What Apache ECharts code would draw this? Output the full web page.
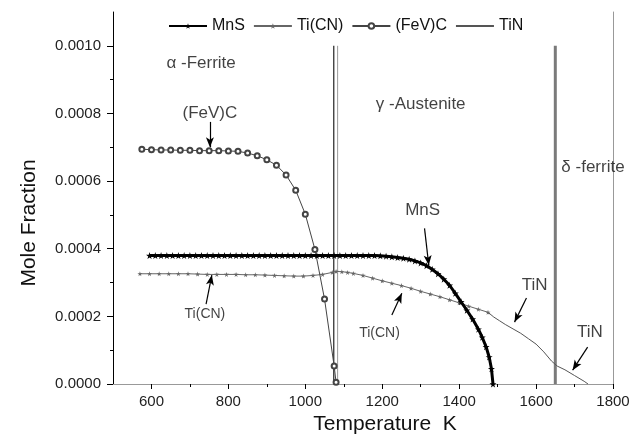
<!DOCTYPE html>
<html><head><meta charset="utf-8">
<script src="https://cdn.jsdelivr.net/npm/echarts@6/dist/echarts.min.js"></script>
<style>html,body{margin:0;padding:0;background:#fff}#c{width:634px;height:444px}</style>
</head><body><div id="c"></div>
<script>
// ---- data ----
const xTickLabels = [600, 800, 1000, 1200, 1400, 1600, 1800];
const xMinorTicks = [700, 900, 1100, 1300, 1500, 1700];
const yTickLabels = [0, 0.0002, 0.0004, 0.0006, 0.0008, 0.0010];
const yMinorTicks = [0.0001, 0.0003, 0.0005, 0.0007, 0.0009];

const mnsT = [595,610,625,640,655,670,685,700,715,730,745,760,775,790,805,820,835,850,865,880,
  895,910,925,940,955,970,985,1000,1015,1030,1045,1060,1075,1090,1105,1120,1135,1150,1165,1180,
  1195,1210,1225,1240,1255,1270,1285,1300,1315,1330,1345,1360,1375,1390,1405,1420,1435,1450,1460,1470,1478,1484,1488];
const mnsV = [0.00038,0.00038,0.00038,0.00038,0.00038,0.00038,0.00038,0.00038,0.00038,0.00038,
  0.00038,0.00038,0.00038,0.00038,0.00038,0.00038,0.00038,0.00038,0.00038,0.00038,
  0.00038,0.00038,0.00038,0.00038,0.00038,0.00038,0.00038,0.00038,0.00038,0.00038,
  0.00038,0.00038,0.00038,0.00038,0.00038,0.00038,0.00038,0.00038,0.00038,0.00038,
  0.000379,0.000378,0.000376,0.000374,0.000372,0.000369,0.000364,0.000358,0.00035,0.000339,
  0.000326,0.00031,0.000292,0.000268,0.000243,0.000218,0.000192,0.000162,0.000138,0.00011,0.00008,0.000045,0];

const ticnT = [570,595,620,645,670,695,720,745,770,795,820,845,870,895,920,945,970,995,1020,1045,1070,1080,
  1095,1110,1125,1150,1175,1200,1225,1250,1275,1300,1325,1350,1375,1400,1425,1450,1475];
const ticnV = [0.000326,0.000326,0.000326,0.000326,0.000326,0.000326,0.000325,0.000324,0.000324,0.000324,
  0.000324,0.000323,0.000323,0.000322,0.000321,0.00032,0.000319,0.000319,0.000321,0.000324,0.00033,0.000333,
  0.000332,0.00033,0.000327,0.000321,0.000313,0.000305,0.000298,0.000291,0.000283,0.000274,0.000266,0.000258,
  0.000249,0.00024,0.00023,0.000221,0.000212];

const fevcT = [575,600,625,650,675,700,725,750,775,800,825,850,875,900,925,950,975,1000,1025,1050,1075,1080];
const fevcV = [0.000694,0.000693,0.000692,0.000692,0.000691,0.000691,0.00069,0.00069,0.00069,0.000689,
  0.000688,0.000683,0.000675,0.000663,0.000647,0.000618,0.000573,0.000502,0.000398,0.000251,0.000053,0.000005];

const tinT = [1475,1490,1505,1520,1540,1560,1580,1600,1620,1640,1655,1675,1700,1725,1735];
const tinV = [0.000212,0.000198,0.000187,0.000176,0.000163,0.00015,0.000134,0.000118,0.000095,0.000068,
  0.000053,0.000042,0.000025,0.000008,0];

// phase boundary lines
const phaseT = [1074, 1084, 1650];
const phaseTop = 0.001;

// annotations
const annotText = ['α -Ferrite', 'γ -Austenite', 'δ -ferrite', '(FeV)C', 'MnS', 'TiN', 'TiN', 'Ti(CN)', 'Ti(CN)'];
const annotT = [729, 1300, 1748, 752, 1305, 1596, 1740, 739, 1193];
const annotV = [0.000947, 0.000826, 0.00064, 0.000801, 0.000513, 0.000292, 0.000153, 0.000206, 0.00015];
const annotSize = [17, 17, 17, 17, 17, 17, 17, 14, 14];
const arrowFrom = [[752, 0.000775], [1310, 0.00046], [1575, 0.000254], [1734, 0.000109], [742, 0.000236], [1225, 0.000204]];
const arrowTo   = [[752, 0.0007],  [1321, 0.000351], [1544, 0.000183], [1695, 0.000041], [757, 0.000322], [1251, 0.000268]];

// ---- chart ----
const FONT = 'Liberation Sans, Arial, sans-serif';
const STAR = 'path://M50,0 L61,35 98,35 68,57 79,91 50,70 21,91 32,57 2,35 39,35 Z';
const zip = (a, b) => a.map((t, i) => [t, b[i]]);

const phaseStyles = [
  {color: '#222', width: 1.2},
  {color: '#999', width: 1},
  {color: '#7a7a7a', width: 3}
];
const phaseSeries = phaseT.map((t, i) => ({
  type: 'line', name: 'phase' + i, silent: true, symbol: 'none', z: 1,
  data: [[t, 0], [t, phaseTop]],
  lineStyle: phaseStyles[i]
}));

const chart = echarts.init(document.getElementById('c'), null, {renderer: 'canvas'});
chart.setOption({
  animation: false,
  backgroundColor: '#fff',
  grid: {left: 113, right: 21, top: 12, bottom: 60},
  legend: {
    data: ['MnS', 'Ti(CN)', '(FeV)C',
      {name: 'TiN', itemStyle: {color: 'rgba(0,0,0,0)', borderColor: 'rgba(0,0,0,0)', borderWidth: 0}}],
    left: 163, top: 13, itemWidth: 38, itemHeight: 7, itemGap: 8,
    textStyle: {fontFamily: FONT, fontSize: 16, color: '#111'}
  },
  xAxis: [
    {type: 'value', min: 500, max: 1800, position: 'bottom',
     name: 'Temperature  K', nameLocation: 'middle', nameGap: 27,
     nameTextStyle: {fontFamily: FONT, fontSize: 21, color: '#111', padding: [0, 0, 0, 44]},
     axisLine: {show: true, lineStyle: {color: '#000', width: 1}},
     axisTick: {show: true, customValues: xTickLabels, length: 5, lineStyle: {color: '#000'}},
     axisLabel: {customValues: xTickLabels, formatter: v => String(v),
       fontFamily: FONT, fontSize: 15, color: '#222', margin: 10},
     splitLine: {show: false}},
    {type: 'value', min: 500, max: 1800, position: 'top',
     axisLine: {show: true, lineStyle: {color: '#999', width: 1}},
     axisTick: {show: false}, axisLabel: {show: false}, splitLine: {show: false}},
    {type: 'value', min: 500, max: 1800, position: 'bottom',
     axisLine: {show: false},
     axisTick: {show: true, customValues: xMinorTicks, length: 3, lineStyle: {color: '#000'}},
     axisLabel: {show: false}, splitLine: {show: false}}
  ],
  yAxis: [
    {type: 'value', min: 0, max: 0.0011, position: 'left',
     name: 'Mole Fraction', nameLocation: 'middle', nameGap: 73,
     nameTextStyle: {fontFamily: FONT, fontSize: 21, color: '#111', padding: [0, 50, 0, 0]},
     axisLine: {show: true, lineStyle: {color: '#000', width: 1}},
     axisTick: {show: true, customValues: yTickLabels, length: 6, lineStyle: {color: '#000'}},
     axisLabel: {customValues: yTickLabels, formatter: v => Number(v).toFixed(4),
       fontFamily: FONT, fontSize: 15, color: '#222', margin: 12},
     splitLine: {show: false}},
    {type: 'value', min: 0, max: 0.0011, position: 'right',
     axisLine: {show: true, lineStyle: {color: '#999', width: 1}},
     axisTick: {show: false}, axisLabel: {show: false}, splitLine: {show: false}},
    {type: 'value', min: 0, max: 0.0011, position: 'left',
     axisLine: {show: false},
     axisTick: {show: true, customValues: yMinorTicks, length: 3, lineStyle: {color: '#000'}},
     axisLabel: {show: false}, splitLine: {show: false}}
  ],
  series: phaseSeries.concat([
    {type: 'line', name: 'MnS', data: zip(mnsT, mnsV), z: 5,
     symbol: STAR, symbolSize: 7, showAllSymbol: true,
     lineStyle: {color: '#000', width: 3}, itemStyle: {color: '#000'}},
    {type: 'line', name: 'Ti(CN)', data: zip(ticnT, ticnV), z: 4,
     symbol: STAR, symbolSize: 5, showAllSymbol: true,
     lineStyle: {color: '#666', width: 1}, itemStyle: {color: '#666'}},
    {type: 'line', name: '(FeV)C', data: zip(fevcT, fevcV), z: 4,
     symbol: 'emptyCircle', symbolSize: 5, showAllSymbol: true,
     lineStyle: {color: '#444', width: 1}, itemStyle: {color: '#444', borderColor: '#444', borderWidth: 1}},
    {type: 'line', name: 'TiN', data: zip(tinT, tinV), z: 4,
     symbol: 'none', lineStyle: {color: '#555', width: 1}, itemStyle: {color: '#555'}},
    {type: 'scatter', name: 'annot', silent: true, z: 10, symbolSize: 0,
     data: annotText.map((s, i) => ({
       value: [annotT[i], annotV[i]],
       label: {show: true, position: 'inside', formatter: s,
               fontFamily: FONT, fontSize: annotSize[i], color: '#111'}
     })),
     markLine: {
       silent: true, animation: false,
       symbol: ['none', 'arrow'], symbolSize: [6, 10],
       label: {show: false},
       lineStyle: {color: '#000', width: 1.2, type: 'solid'},
       emphasis: {disabled: true},
       data: arrowFrom.map((p, i) => [{coord: p}, {coord: arrowTo[i]}])
     }}
  ])
});
</script>
</body></html>
